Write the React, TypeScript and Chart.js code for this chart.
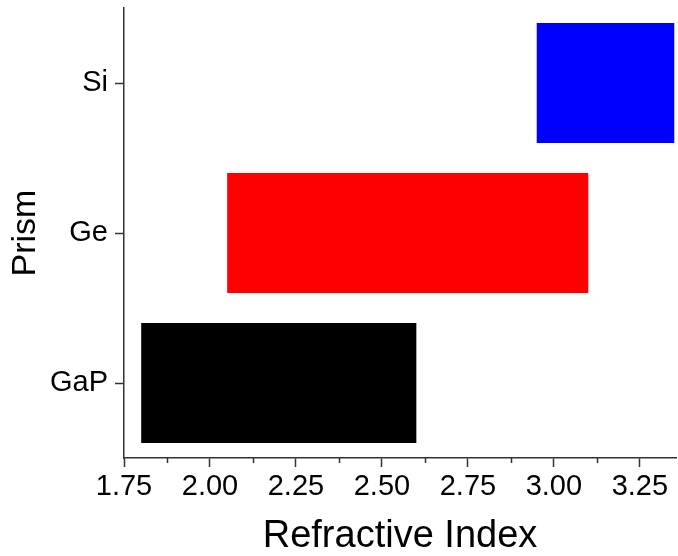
import React, { useEffect, useRef } from "react";
import { Chart, registerables } from "chart.js";

Chart.register(...registerables);

const prisms = ["Si", "Ge", "GaP"];
const indexLow = [2.95, 2.05, 1.8];
const indexHigh = [3.35, 3.1, 2.6];
const barColors = ["#0000ff", "#ff0000", "#000000"];
const majorTicks = [1.75, 2.0, 2.25, 2.5, 2.75, 3.0, 3.25];
const minorTicks = [1.875, 2.125, 2.375, 2.625, 2.875, 3.125];

const AXIS_COLOR = "#333333";
const FONT = "Liberation Sans";

// short unlabeled ticks halfway between the labeled ones
const minorTickPlugin = {
  id: "minorTicks",
  afterDraw(chart: any) {
    const x = chart.scales.x;
    const ctx = chart.ctx;
    ctx.save();
    ctx.strokeStyle = AXIS_COLOR;
    ctx.lineWidth = 1.5;
    minorTicks.forEach((v) => {
      const px = Math.round(x.getPixelForValue(v)) + 0.5;
      ctx.beginPath();
      ctx.moveTo(px, x.top);
      ctx.lineTo(px, x.top + 5);
      ctx.stroke();
    });
    ctx.restore();
  },
};

export default function App() {
  const canvasRef = useRef<HTMLCanvasElement | null>(null);

  useEffect(() => {
    if (!canvasRef.current) return;
    const chart = new Chart(canvasRef.current, {
      type: "bar",
      data: {
        labels: prisms,
        datasets: [
          {
            data: prisms.map((_, i) => [indexLow[i], indexHigh[i]]) as any,
            backgroundColor: barColors,
            borderWidth: 0,
            barPercentage: 0.8,
            categoryPercentage: 1,
          },
        ],
      },
      options: {
        indexAxis: "y",
        animation: false,
        responsive: false,
        maintainAspectRatio: false,
        layout: { padding: { top: 8, right: 2, left: 0, bottom: 0 } },
        plugins: { legend: { display: false }, tooltip: { enabled: false } },
        scales: {
          x: {
            type: "linear",
            min: 1.75,
            max: 3.355,
            afterBuildTicks(scale: any) {
              scale.ticks = majorTicks.map((v) => ({ value: v }));
            },
            afterFit(scale: any) {
              scale.height = 98;
              scale.paddingLeft = 0;
              scale.paddingRight = 0;
            },
            grid: {
              display: true,
              drawOnChartArea: false,
              drawTicks: true,
              tickLength: 9,
              tickWidth: 1.5,
              tickColor: AXIS_COLOR,
            },
            border: { display: true, color: AXIS_COLOR, width: 1.5 },
            ticks: {
              color: "#000",
              padding: 3,
              maxRotation: 0,
              autoSkip: false,
              font: { family: FONT, size: 29 },
              callback: (v: any) => Number(v).toFixed(2),
            },
            title: {
              display: true,
              text: "Refractive Index",
              color: "#000",
              font: { family: FONT, size: 38, lineHeight: 1 },
              padding: { top: 0, bottom: 0 },
            },
          },
          y: {
            type: "category",
            offset: true,
            afterFit(scale: any) {
              scale.width = 124;
              scale.paddingTop = 0;
              scale.paddingBottom = 0;
            },
            grid: {
              display: true,
              drawOnChartArea: false,
              drawTicks: true,
              tickLength: 9,
              tickWidth: 1.5,
              tickColor: AXIS_COLOR,
              offset: false,
            },
            border: { display: true, color: AXIS_COLOR, width: 1.5 },
            ticks: {
              color: "#000",
              padding: 7,
              font: { family: FONT, size: 29 },
            },
            title: {
              display: true,
              text: "Prism",
              color: "#000",
              font: { family: FONT, size: 34 },
              padding: { top: 5, bottom: 0 },
            },
          },
        },
      },
      plugins: [minorTickPlugin],
    });
    return () => chart.destroy();
  }, []);

  return (
    <div style={{ position: "absolute", left: 0, top: 0, width: 678, height: 556, background: "#fff" }}>
      <canvas ref={canvasRef} width={678} height={556} style={{ display: "block" }} />
    </div>
  );
}
